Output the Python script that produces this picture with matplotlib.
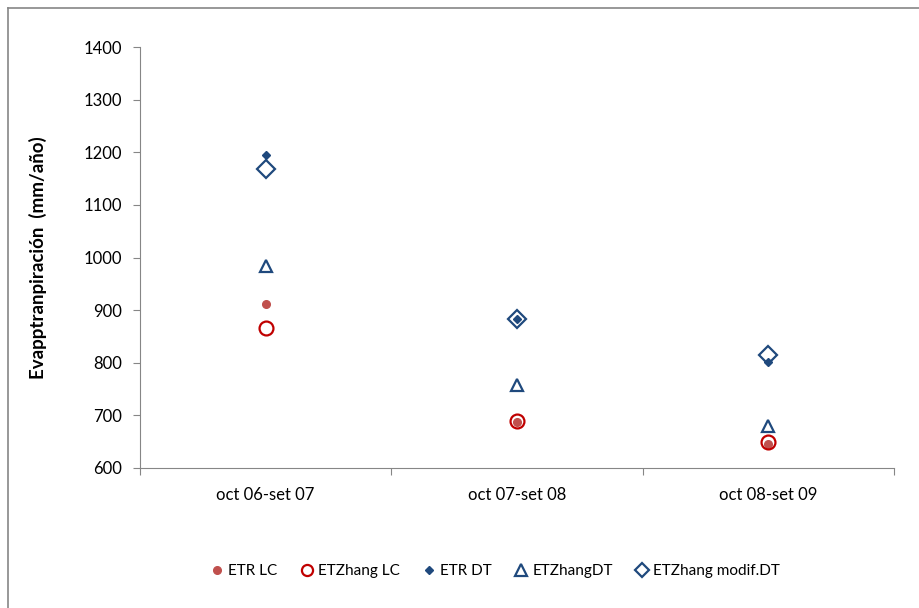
import matplotlib
matplotlib.use("Agg")
import matplotlib.pyplot as plt
from matplotlib.lines import Line2D

# Periodos hidrológicos y evapotranspiración anual (mm/año)
periodos = ["oct 06-set 07", "oct 07-set 08", "oct 08-set 09"]
etr_lc = [911, 688, 645]
etzhang_lc = [866, 689, 649]
etr_dt = [1194, 883, 801]
etzhang_dt = [984, 757, 680]
etzhang_modif_dt = [1168, 883, 815]

plt.rcParams['font.family'] = ['Lato', 'DejaVu Sans']

azul = "#1F497D"
rojo = "#C00000"
rosa = "#C0504D"

fig = plt.figure(figsize=(9.2, 6.08), dpi=100)
ax = fig.add_axes([140 / 920, 1 - 468 / 608, 754 / 920, 421 / 608])

x = [0.5, 1.5, 2.5]
ax.plot(x, etr_lc, 'o', ls='none', ms=5.5, color=rosa, mec=rosa)
ax.plot(x, etzhang_lc, 'o', ls='none', ms=10, mfc='none', mec=rojo, mew=1.6)
ax.plot(x, etr_dt, 'D', ls='none', ms=4.5, color=azul)
ax.plot(x, etzhang_dt, '^', ls='none', ms=9, mfc='none', mec=azul, mew=1.6)
ax.plot(x, etzhang_modif_dt, 'D', ls='none', ms=9, mfc='none', mec=azul, mew=1.6)

ax.set_xlim(0, 3)
ax.set_ylim(600, 1400)
ax.set_yticks(range(600, 1401, 100))
ax.set_xticks([0, 1, 2, 3])
ax.set_xticklabels([])
ax.set_xticks(x, minor=True)
ax.set_xticklabels(periodos, minor=True)
ax.tick_params(axis='x', which='minor', length=0, pad=14, labelsize=12)
ax.tick_params(axis='x', which='major', length=5, color="#868686", direction='out')
ax.tick_params(axis='y', length=5, color="#868686", labelsize=12, pad=8)

for s in ['top', 'right']:
    ax.spines[s].set_visible(False)
for s in ['left', 'bottom']:
    ax.spines[s].set_color("#868686")

ax.set_ylabel("Evapptranpiración  (mm/año)", fontsize=13.5, fontweight='bold', labelpad=26)

# Leyenda con marcadores más pequeños que en el gráfico
handles = [
    Line2D([], [], marker='o', ls='none', ms=5.5, color=rosa, mec=rosa),
    Line2D([], [], marker='o', ls='none', ms=8, mfc='none', mec=rojo, mew=1.6),
    Line2D([], [], marker='D', ls='none', ms=4.5, color=azul),
    Line2D([], [], marker='^', ls='none', ms=8, mfc='none', mec=azul, mew=1.6),
    Line2D([], [], marker='D', ls='none', ms=7, mfc='none', mec=azul, mew=1.6),
]
labels = ["ETR LC", "ETZhang LC", "ETR DT", "ETZhangDT", "ETZhang modif.DT"]
fig.legend(handles, labels, loc='center', bbox_to_anchor=(494 / 920, 1 - 571 / 608), ncol=5,
           frameon=False, fontsize=11, handletextpad=0.1, columnspacing=1.35, handlelength=1.2)

# Marco del gráfico
fig.add_artist(Line2D([8 / 920, 8 / 920], [0, 1 - 8 / 608], color="#868686", lw=1.2))
fig.add_artist(Line2D([8 / 920, 1], [1 - 8 / 608, 1 - 8 / 608], color="#868686", lw=1.2))

fig.savefig("out.png", dpi=100)
